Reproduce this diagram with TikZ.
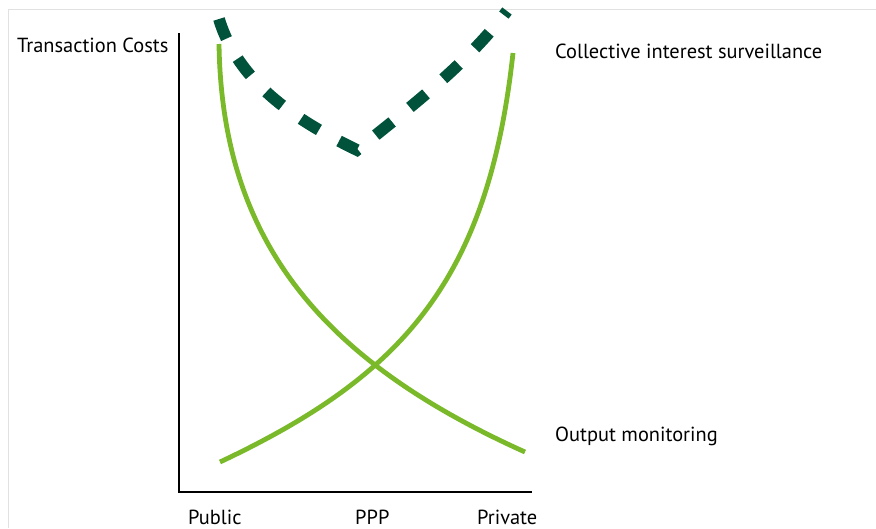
\documentclass[tikz,border=0pt]{standalone}
\usepackage{fontspec}
\setmainfont{PT Sans}
\definecolor{darkgreen}{RGB}{0,83,58}
\definecolor{lightgreen}{RGB}{122,185,41}
\definecolor{framegray}{RGB}{225,225,225}
\begin{document}
\begin{tikzpicture}[x=1pt,y=-1pt,
  lbl/.style={anchor=base west,inner sep=0pt,font=\fontsize{20.4}{22}\selectfont},
  axisline/.style={draw=black,line width=1.1pt},
  costcurve/.style={draw=lightgreen,line width=4.8pt},
  totalcurve/.style={draw=darkgreen,line width=11.8pt,dash pattern=on 21pt off 23pt,line cap=butt,line join=miter}]
\useasboundingbox (0,0) rectangle (876,528);
\draw[framegray,line width=1.5pt] (8.5,528) -- (8.5,9.5) -- (876,9.5);
% axes
\coordinate (top) at (179,33);
\coordinate (origin) at (179,492);
\coordinate (right) at (532,492);
\draw[axisline] (top) -- (origin) -- (right);
% curves
\coordinate (c1s) at (219,44);
\coordinate (c1e) at (525,452);
\coordinate (c2s) at (220,462);
\coordinate (c2e) at (513,53);
\draw[costcurve] (c1s) .. controls (222,244) and (325,362) .. (c1e);
\draw[costcurve] (c2s) .. controls (400,377) and (488,283) .. (c2e);
\coordinate (ts) at (219,19);
\coordinate (tv) at (357,150);
\coordinate (te) at (507,11);
\draw[totalcurve] (ts) .. controls (238,82) and (295,120) .. (tv) .. controls (420,100) and (470,60) .. (te);
% labels
\node[lbl] (ylab) at (17,52) {Transaction Costs};
\node[lbl] (collab) at (555,58) {Collective interest surveillance};
\node[lbl] (outlab) at (555,441.5) {Output monitoring};
\node[lbl] (pub) at (188,524.5) {Public};
\node[lbl] (ppp) at (355,524.5) {PPP};
\node[lbl] (priv) at (477,524.5) {Private};
\end{tikzpicture}
\end{document}
